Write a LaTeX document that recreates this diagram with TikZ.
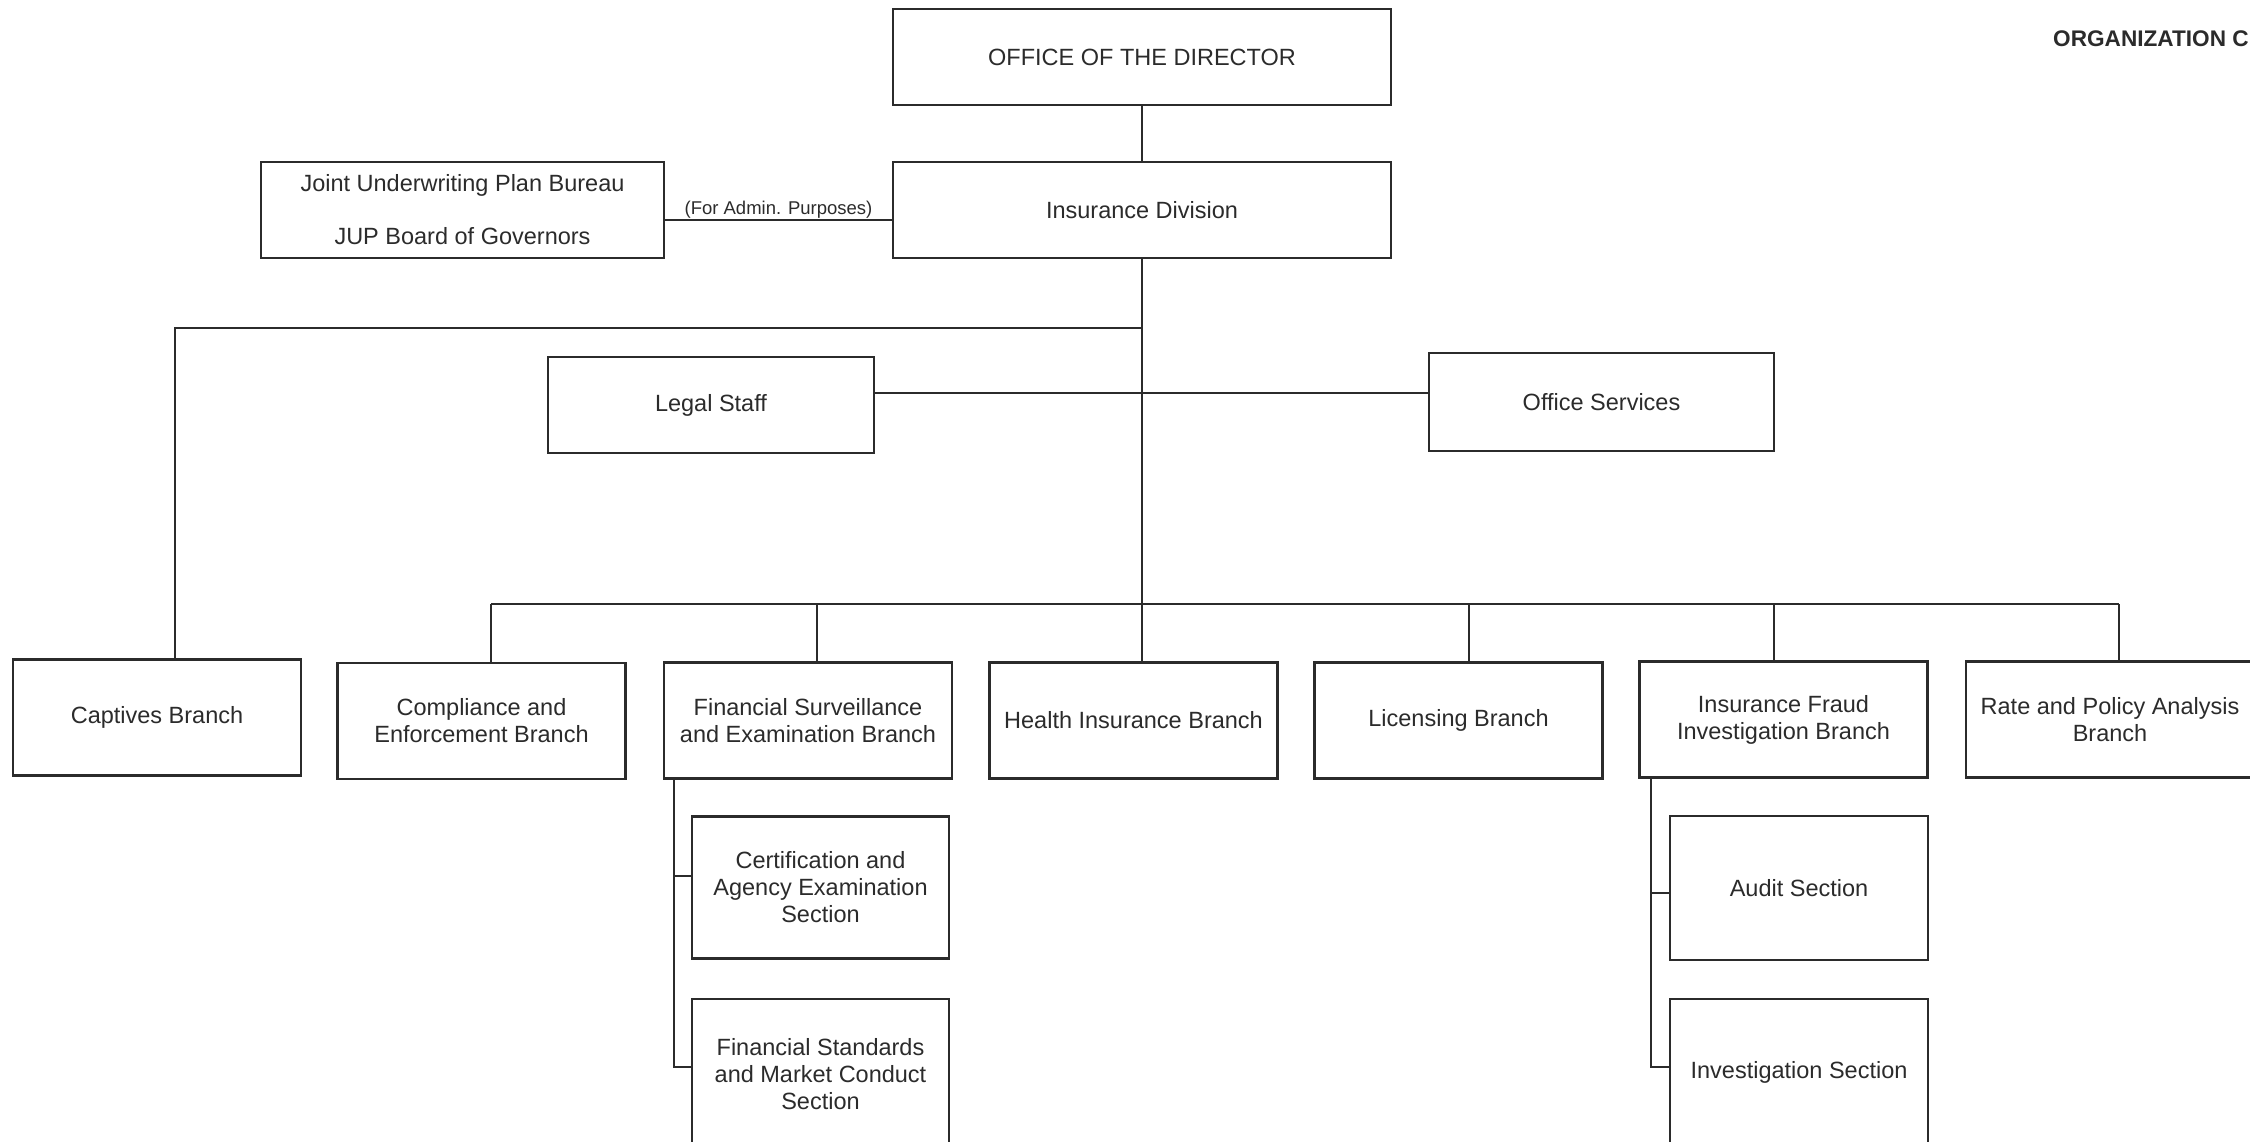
\documentclass[tikz,border=0pt]{standalone}
\usepackage{fontspec}
\setmainfont{Liberation Sans}
\definecolor{ink}{HTML}{2B2B2B}
\tikzset{
  box/.style={draw=ink, line width=2.6pt, text=ink, inner sep=0pt, align=center,
    font=\fontsize{23.5}{27}\selectfont},
  branchbox/.style={box, minimum width=288pt, minimum height=116pt},
  secbox/.style={box, minimum width=257pt, minimum height=142pt},
  link/.style={draw=ink, line width=2.2pt},
}
\begin{document}
\begin{tikzpicture}[x=1pt,y=-1pt]
\useasboundingbox (0,0) rectangle (2250,1141);
\clip (0,0) rectangle (2250,1141);

% title
\node[anchor=base west, inner sep=0pt, text=ink, font=\bfseries\fontsize{22.6}{26}\selectfont] (title) at (2053,46) {ORGANIZATION CHART};

% top level
\node[box, minimum width=498pt, minimum height=96pt] (dir) at (1142,57) {OFFICE OF THE DIRECTOR};
\node[box, minimum width=498pt, minimum height=96pt] (ins) at (1142,210) {Insurance Division};
\node[box, minimum width=403pt, minimum height=96pt] (jup) at (462.5,210) {Joint Underwriting Plan Bureau\\[26pt]JUP Board of Governors};
\node[box, minimum width=326pt, minimum height=96pt] (legal) at (711,405) {Legal Staff};
\node[box, minimum width=345pt, minimum height=98pt] (off) at (1601.5,402) {Office Services};

% branches
\node[branchbox] (capt) at (157,717.5) {Captives Branch};
\node[branchbox] (comp) at (481.5,721) {Compliance and\\Enforcement Branch};
\node[branchbox] (fin) at (808,720.5) {Financial Surveillance\\and Examination Branch};
\node[branchbox] (health) at (1133.5,720.5) {Health Insurance Branch};
\node[branchbox] (lic) at (1458.5,720.5) {Licensing Branch};
\node[branchbox] (fraud) at (1783.5,719.5) {Insurance Fraud\\Investigation Branch};
\node[branchbox] (rate) at (2110,719.5) {Rate and Policy Analysis\\Branch};

% sections
\node[secbox] (cert) at (820.5,887.5) {Certification and\\Agency Examination\\Section};
\node[secbox, minimum height=151pt] (fstd) at (820.5,1074.5) {Financial Standards\\and Market Conduct\\Section};
\node[secbox, minimum width=258pt, minimum height=144pt] (audit) at (1799,888) {Audit Section};
\node[secbox, minimum width=258pt, minimum height=151pt, text depth=10pt] (inv) at (1799,1074.5) {Investigation Section};

% connectors
\draw[link] (dir.south) -- (ins.north);
\draw[link] ([yshift=-10pt]jup.east) -- node[above=1pt, inner sep=0pt, text=ink, font=\fontsize{18.5}{22}\selectfont] (adm) {(For Admin. Purposes)} ([yshift=-10pt]ins.west);
\draw[link] (ins.south) -- (ins.south |- health.north);

\coordinate (capj) at (1142,328);
\coordinate (capd) at (175,328);
\draw[link] (capj) -- (capd) -- (capd |- capt.north);

\coordinate (ly) at (0,393);
\draw[link] (legal.east |- ly) -- (off.west |- ly);

\coordinate (bl) at (491,604);
\coordinate (br) at (2119,604);
\draw[link] (bl) -- (br);
\coordinate (d2) at (817,604);
\coordinate (d4) at (1469,604);
\coordinate (d5) at (1774,604);
\draw[link] (bl) -- (bl |- comp.north);
\draw[link] (d2) -- (d2 |- fin.north);
\draw[link] (d4) -- (d4 |- lic.north);
\draw[link] (d5) -- (d5 |- fraud.north);
\draw[link] (br) -- (br |- rate.north);

\coordinate (f1) at (674,876);
\coordinate (f2) at (674,1067);
\draw[link] (f2 |- fin.south) -- (f2) -- (f2 -| fstd.west);
\draw[link] (f1) -- (f1 -| cert.west);

\coordinate (g1) at (1651,893);
\coordinate (g2) at (1651,1067);
\draw[link] (g2 |- fraud.south) -- (g2) -- (g2 -| inv.west);
\draw[link] (g1) -- (g1 -| audit.west);
\end{tikzpicture}
\end{document}
